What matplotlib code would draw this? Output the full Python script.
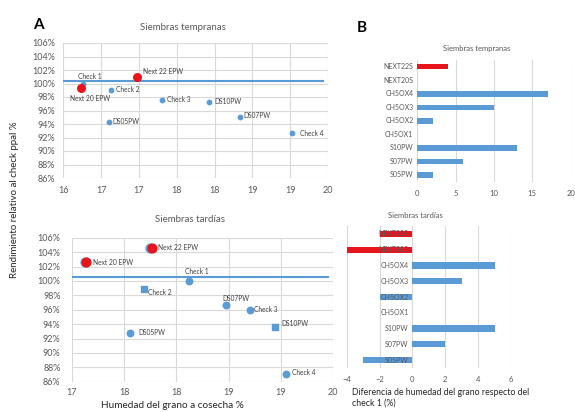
import matplotlib
matplotlib.use('Agg')
import matplotlib.pyplot as plt
from matplotlib.transforms import ScaledTranslation

plt.rcParams['font.family'] = ['Lato', 'DejaVu Sans']

BLUE = '#5B9BD5'
RED = '#E8141B'
GRID = '#D9D9D9'
TXT = '#595959'

# ---- Panel A, siembras tempranas ----
temp_x = [16.26, 16.63, 17.31, 17.93, 18.34, 16.60, 19.03]
temp_y = [100.0, 99.1, 97.6, 97.3, 95.0, 94.3, 92.6]
temp_lab = ['Check 1', 'Check 2', 'Check 3', 'DS10PW', 'DS07PW', 'DS05PW', 'Check 4']
temp_next_x = [16.96, 16.22]
temp_next_y = [101.0, 99.3]
temp_next_lab = ['Next 22 EPW', 'Next 20 EPW']
temp_xticks = [16, 16.5, 17, 17.5, 18, 18.5, 19, 19.5]
temp_xticklabels = ['16', '17', '17', '18', '18', '19', '19', '20']

# ---- Panel A, siembras tardias ----
tard_x = [18.34, 17.83, 18.77, 19.04, 19.33, 17.67, 19.46]
tard_y = [100.0, 98.85, 96.7, 96.0, 93.6, 92.8, 87.1]
tard_lab = ['Check 1', 'Check 2', 'DS07PW', 'Check 3', 'DS10PW', 'DS05PW', 'Check 4']
tard_marker = ['o', 's', 'o', 'o', 's', 'o', 'o']
tard_next_x = [17.90, 17.15]
tard_next_y = [104.6, 102.6]
tard_next_lab = ['Next 22 EPW', 'Next 20 EPW']
tard_xticks = [17, 17.6, 18.2, 18.8, 19.4, 20]
tard_xticklabels = ['17', '18', '18', '19', '19', '20']

yticks = list(range(86, 107, 2))
yticklabels = [f'{v}%' for v in yticks]

# ---- Panel B ----
cats = ['NEXT22S', 'NEXT20S', 'CH5OX4', 'CH5OX3', 'CH5OX2', 'CH5OX1', 'S10PW', 'S07PW', 'S05PW']
bar_temp = [4, 0, 17, 10, 2, 0, 13, 6, 2]
bar_tard = [-2, -4, 5, 3, -2, 0, 5, 2, -3]
bar_cols = [RED, RED] + [BLUE] * 7

W, H = 575, 412
fig = plt.figure(figsize=(W / 100, H / 100), dpi=100)


def box(x0, y0, x1, y1):
    # pixel box (top-left origin) -> figure fraction
    return [x0 / W, 1 - y1 / H, (x1 - x0) / W, (y1 - y0) / H]


def style_scatter(ax, xticks, xlabels, xpad, ypad):
    ax.set_ylim(86, 106)
    ax.set_yticks(yticks)
    ax.set_yticklabels(yticklabels)
    ax.set_xticks(xticks)
    ax.set_xticklabels(xlabels)
    ax.grid(True, color=GRID, lw=0.8)
    ax.set_axisbelow(True)
    for s in ax.spines.values():
        s.set_visible(False)
    ax.tick_params(length=0, labelsize=6.5, colors=TXT)
    ax.tick_params(axis='x', pad=xpad)
    ax.tick_params(axis='y', pad=ypad)


def point_labels(ax, xs, ys, labels, offsets):
    for x, y, t, (dx, dy, ha) in zip(xs, ys, labels, offsets):
        ax.annotate(t, (x, y), xytext=(dx, dy), textcoords='offset pixels',
                    ha=ha, va='center', fontsize=4.8, color='#404040')


shift = ScaledTranslation(1.5 / 100, 0, fig.dpi_scale_trans)

# top scatter
ax1 = fig.add_axes(box(63.3, 43, 328, 178))
ax1.set_xlim(16, 19.5)
style_scatter(ax1, temp_xticks, temp_xticklabels, 6, 6)
ax1.axhline(100.3, xmin=0, xmax=0.98, color=BLUE, lw=1.5, zorder=2)
ax1.scatter(temp_x, temp_y, s=10, color=BLUE, zorder=3)
ax1.scatter(temp_next_x, temp_next_y, s=10, color=BLUE, zorder=3)
ax1.scatter(temp_next_x, temp_next_y, s=30, color=RED, zorder=4,
            transform=ax1.transData + shift)
point_labels(ax1, temp_x, temp_y, temp_lab,
             [(7, 7, 'center'), (5, 0, 'left'), (5, 0, 'left'), (5, 0, 'left'),
              (3, 2, 'left'), (4, 0, 'left'), (8, 0, 'left')])
point_labels(ax1, temp_next_x, temp_next_y, temp_next_lab,
             [(7, 5, 'left'), (10, -10, 'center')])

# bottom scatter
ax2 = fig.add_axes(box(71.7, 237.7, 333.3, 381.7))
ax2.set_xlim(17, 20)
style_scatter(ax2, tard_xticks, tard_xticklabels, 4.5, 8)
ax2.axhline(100.5, xmin=0, xmax=0.98, color=BLUE, lw=1.5, zorder=2)
for x, y, m in zip(tard_x, tard_y, tard_marker):
    ax2.scatter([x], [y], s=22, marker=m, color=BLUE, zorder=3)
ax2.scatter(tard_next_x, tard_next_y, s=40, color=BLUE, zorder=3)
ax2.scatter(tard_next_x, tard_next_y, s=40, color=RED, zorder=4,
            transform=ax2.transData + shift)
point_labels(ax2, tard_x, tard_y, tard_lab,
             [(8, 9, 'center'), (4, -3, 'left'), (-4, 6, 'left'), (4, 0, 'left'),
              (6, 3, 'left'), (8, 0, 'left'), (6, 1, 'left')])
point_labels(ax2, tard_next_x, tard_next_y, tard_next_lab,
             [(8, 0, 'left'), (8, 0, 'left')])


def style_bar(ax, vals, xticks):
    pos = list(range(len(cats)))
    ax.barh(pos, vals, height=0.4, color=bar_cols, zorder=1)
    ax.set_yticks(pos)
    ax.set_yticklabels([])
    ax.set_ylim(len(cats) - 0.5, -0.5)
    ax.set_xticks(xticks)
    ax.grid(True, axis='x', color=GRID, lw=0.8)
    ax.set_axisbelow(True)
    for s in ax.spines.values():
        s.set_visible(False)
    ax.tick_params(length=0, labelsize=5.5, colors=TXT, pad=6)
    # category names sit next to the zero axis, on top of the bars
    for p, c in zip(pos, cats):
        ax.annotate(c, (0, p), xytext=(-4, 0), textcoords='offset pixels',
                    ha='right', va='center', fontsize=5, color=TXT, zorder=5)


# top bar chart
ax3 = fig.add_axes(box(417.3, 60, 570.7, 181.7))
ax3.set_xlim(0, 20)
style_bar(ax3, bar_temp, [0, 5, 10, 15, 20])

# bottom bar chart
ax4 = fig.add_axes(box(346.7, 226, 511, 368))
ax4.set_xlim(-4, 6)
style_bar(ax4, bar_tard, [-4, -2, 0, 2, 4, 6])

# texts
fig.text(38 / W, 1 - 25 / H, 'A', fontsize=11, fontweight='bold', ha='center', va='center')
fig.text(362 / W, 1 - 28 / H, 'B', fontsize=11, fontweight='bold', ha='center', va='center')
fig.text(183 / W, 1 - 28 / H, 'Siembras tempranas', fontsize=7, color=TXT, ha='center', va='center')
fig.text(190 / W, 1 - 219 / H, 'Siembras tardías', fontsize=7, color=TXT, ha='center', va='center')
fig.text(477 / W, 1 - 48 / H, 'Siembras tempranas', fontsize=5.5, color=TXT, ha='center', va='center')
fig.text(415 / W, 1 - 215 / H, 'Siembras tardías', fontsize=5.5, color=TXT, ha='center', va='center')
fig.text(15 / W, 1 - 200 / H, 'Rendimiento relativo al check ppal %', fontsize=7,
         color='#262626', rotation=90, ha='center', va='center')
fig.text(172 / W, 1 - 405 / H, 'Humedad del grano a cosecha %', fontsize=7.2,
         color='#262626', ha='center', va='center')
fig.text(352 / W, 1 - 388 / H, 'Diferencia de humedad del grano respecto del\ncheck 1 (%)',
         fontsize=6.3, color='#262626', ha='left', va='top', linespacing=1.25)

fig.savefig('out.png', dpi=100)
